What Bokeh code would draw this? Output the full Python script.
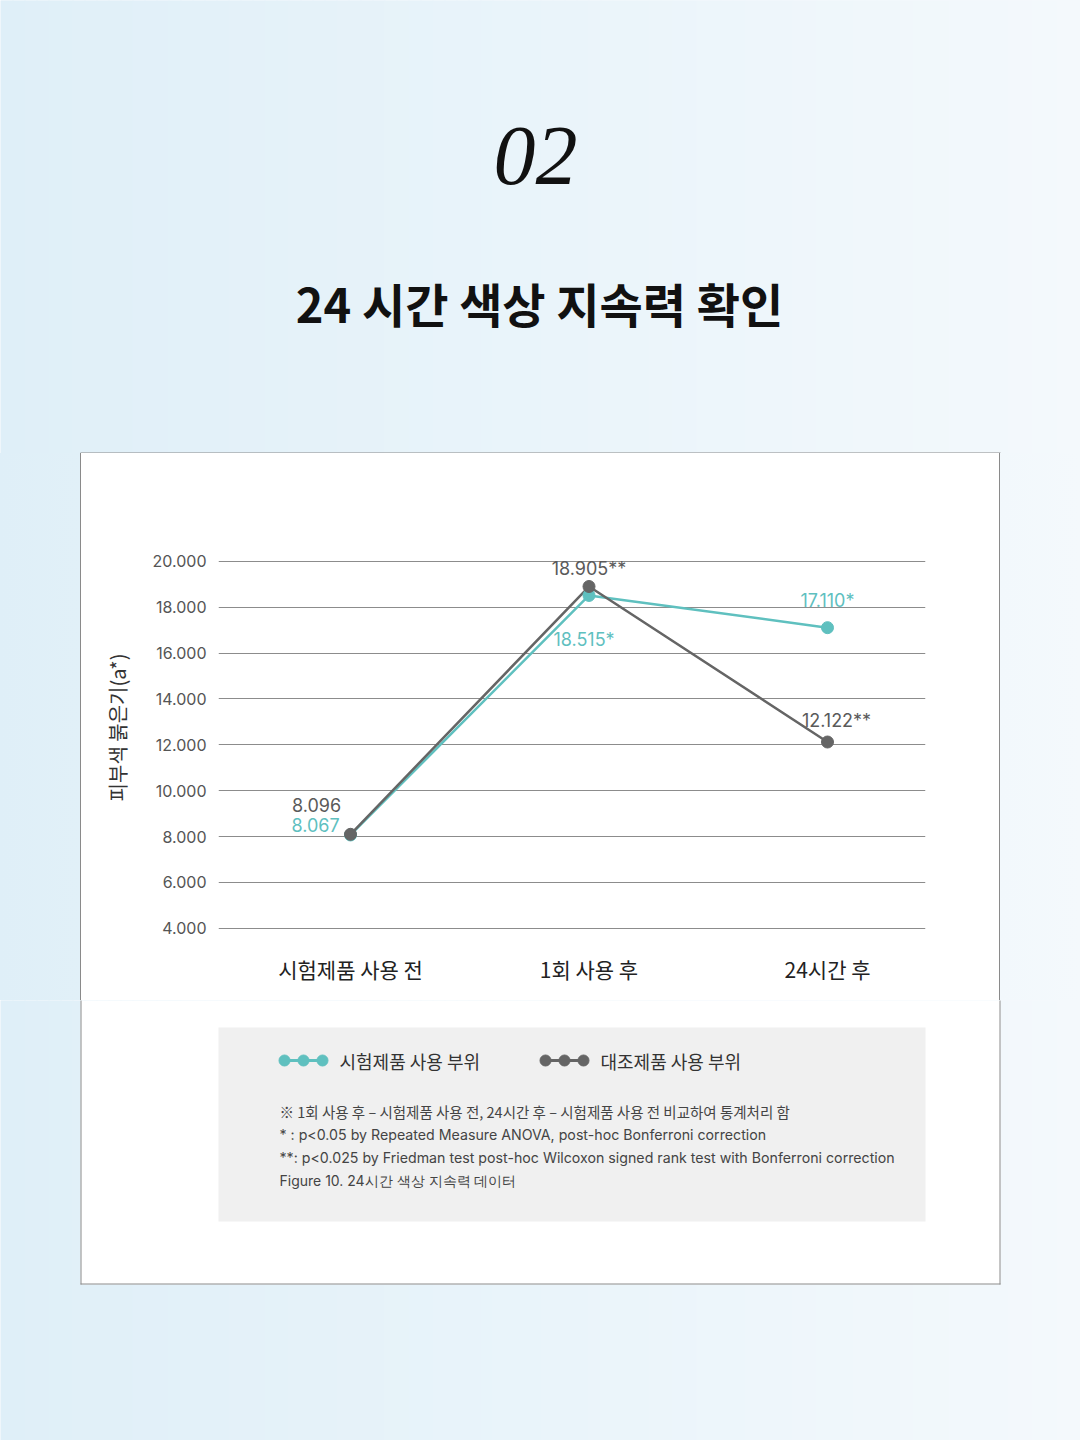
from bokeh.plotting import figure
from bokeh.layouts import column, row
from bokeh.models import (Range1d, FixedTicker, NumeralTickFormatter, Label,
                          ColumnDataSource, Spacer)
from bokeh.core.properties import value
from bokeh.embed import file_html
from bokeh.resources import INLINE

# ---------------- data ----------------
categories = ["시험제품 사용 전", "1회 사용 후", "24시간 후"]
test_values = [8.067, 18.515, 17.110]
control_values = [8.096, 18.905, 12.122]
test_labels = ["8.067", "18.515*", "17.110*"]
control_labels = ["8.096", "18.905**", "12.122**"]
y_ticks = [4, 6, 8, 10, 12, 14, 16, 18, 20]
series_names = ["시험제품 사용 부위", "대조제품 사용 부위"]
y_title = "피부색 붉은기(a*)"
page_number = "02"
page_title = "24 시간 색상 지속력 확인"
footnotes = [
    "※ 1회 사용 후 – 시험제품 사용 전, 24시간 후 – 시험제품 사용 전 비교하여 통계처리 함",
    "* : p<0.05 by Repeated Measure ANOVA, post-hoc Bonferroni correction",
    "**: p<0.025 by Friedman test post-hoc Wilcoxon signed rank test with Bonferroni correction",
    "Figure 10. 24시간 색상 지속력 데이터",
]

# ---------------- style constants ----------------
W, H = 1080, 1440
TEAL = "#5fc0bf"
GRAY = "#656565"
KR = "Noto Sans CJK KR"
LAT = "Inter"
CARD_L, CARD_R, CARD_T, CARD_B = 80, 1000, 452, 1284
BORDER = "#8a8a8a"
BG_L = (0xdf, 0xef, 0xf8)
BG_R = (0xf4, 0xf9, 0xfc)
BAND_A = 453          # header band height
BAND_B = 547          # chart band height (453..1000)
BAND_C = H - BAND_A - BAND_B
SP_L, SP_R = 81, 81   # spacers beside the chart card


def bg_color(xp):
    t = min(max(xp / W, 0.0), 1.0)
    c = [round(a + (b - a) * t) for a, b in zip(BG_L, BG_R)]
    return "#%02x%02x%02x" % tuple(c)


def blank(x0, y0, w, h):
    f = figure(width=w, height=h, x_range=Range1d(x0, x0 + w), y_range=Range1d(y0 + h, y0),
               output_backend="svg", toolbar_location=None, min_border=0,
               x_axis_type=None, y_axis_type=None)
    f.grid.visible = False
    f.outline_line_color = None
    f.background_fill_color = bg_color(x0 + w / 2)
    f.border_fill_color = bg_color(x0 + w / 2)
    step = 12
    lefts = list(range(x0, x0 + w, step))
    f.quad(left=lefts, right=[l + step + 1 for l in lefts], top=[y0 - 3] * len(lefts),
           bottom=[y0 + h + 3] * len(lefts), fill_color=[bg_color(l + step / 2) for l in lefts],
           line_color=None)
    return f


def label(f, text, X, Y, size, color="#222222", font=KR, style="normal", align="left"):
    f.add_layout(Label(x=X, y=Y, text=text, text_font=font, text_font_size=size,
                       text_color=color, text_font_style=style,
                       text_align=align, text_baseline="middle"))


# ---------------- band A: header ----------------
fa = blank(0, 0, W, BAND_A)
label(fa, page_number, 535, 155, "84px", color="#111111", font="Liberation Serif",
      style="italic", align="center")
label(fa, page_title, 539, 302, "47px", color="#111111", style="bold", align="center")
fa.quad(left=[CARD_L], right=[CARD_R], top=[CARD_T + 0.5], bottom=[BAND_A + 3],
        fill_color="white", line_color=None)
fa.segment(x0=[CARD_L], y0=[CARD_T + 0.5], x1=[CARD_R], y1=[CARD_T + 0.5],
           line_color=BORDER, line_width=1)

# ---------------- band B: chart ----------------
sl = Spacer(width=SP_L, height=BAND_B,
            styles={"background": "linear-gradient(to right, %s 0px, %s %dpx, %s %dpx, %s %dpx)"
                    % (bg_color(0), bg_color(SP_L - 1), SP_L - 1, BORDER, SP_L - 1, BORDER, SP_L)})
sr = Spacer(width=SP_R, height=BAND_B,
            styles={"background": "linear-gradient(to right, %s 0px, %s 1px, %s 1px, %s %dpx)"
                    % (BORDER, BORDER, bg_color(W - SP_R), bg_color(W), SP_R)})

FL, FR, FT, FB = 218, 925, 524, 930     # plot frame in page pixels
CW = W - SP_L - SP_R
idx = list(range(len(categories)))
p = figure(width=CW, height=BAND_B, output_backend="svg", toolbar_location=None,
           x_range=Range1d(-0.5535, 2.4109), y_range=Range1d(3.9, 21.61),
           min_border_left=FL - SP_L, min_border_right=(W - SP_R) - FR,
           min_border_top=FT - BAND_A, min_border_bottom=(BAND_A + BAND_B) - FB)
p.border_fill_color = "white"
p.background_fill_color = "white"
p.outline_line_color = None

p.yaxis.ticker = FixedTicker(ticks=y_ticks)
p.yaxis.formatter = NumeralTickFormatter(format="0.000")
p.yaxis.axis_line_color = None
p.yaxis.major_tick_line_color = None
p.yaxis.minor_tick_line_color = None
p.yaxis.major_label_standoff = 6
p.yaxis.major_label_text_font = LAT
p.yaxis.major_label_text_font_size = "16px"
p.yaxis.major_label_text_color = "#555555"
p.yaxis.axis_label = y_title
p.yaxis.axis_label_text_font = KR
p.yaxis.axis_label_text_font_size = "20px"
p.yaxis.axis_label_text_font_style = "normal"
p.yaxis.axis_label_text_color = "#333333"
p.yaxis.axis_label_standoff = 18

p.xaxis.ticker = FixedTicker(ticks=idx)
p.xaxis.major_label_overrides = {i: c for i, c in zip(idx, categories)}
p.xaxis.axis_line_color = None
p.xaxis.major_tick_line_color = None
p.xaxis.minor_tick_line_color = None
p.xaxis.major_label_standoff = 17
p.xaxis.major_label_text_font = KR
p.xaxis.major_label_text_font_size = "21px"
p.xaxis.major_label_text_color = "#222222"

p.xgrid.visible = False
p.ygrid.ticker = FixedTicker(ticks=y_ticks)
p.ygrid.grid_line_color = "#8c8c8c"
p.ygrid.grid_line_width = 1
p.ygrid.grid_line_alpha = 1.0

p.line(idx, test_values, line_color=TEAL, line_width=2.5)
p.line(idx, control_values, line_color=GRAY, line_width=2.5)
p.scatter(idx, test_values, size=12, fill_color=TEAL, line_color=TEAL)
p.scatter(idx, control_values, size=12, fill_color=GRAY, line_color=GRAY)

test_dx = [-35, -5, 0]
test_dy = [-10, 44, -27]
ctrl_dx = [-34, 0, 9]
ctrl_dy = [-29, -18, -22]
src_t = ColumnDataSource(dict(x=idx, y=test_values, t=test_labels, dx=test_dx, dy=test_dy))
src_c = ColumnDataSource(dict(x=idx, y=control_values, t=control_labels, dx=ctrl_dx, dy=ctrl_dy))
p.text(x="x", y="y", text="t", x_offset="dx", y_offset="dy", source=src_t,
       text_color=TEAL, text_font=value(LAT), text_font_size="18px",
       text_align="center", text_baseline="middle")
p.text(x="x", y="y", text="t", x_offset="dx", y_offset="dy", source=src_c,
       text_color="#5a5a5a", text_font=value(LAT), text_font_size="18px",
       text_align="center", text_baseline="middle")

# ---------------- band C: legend + notes ----------------
y0c = BAND_A + BAND_B
fc = blank(0, y0c, W, BAND_C)
fc.quad(left=[CARD_L], right=[CARD_R], top=[y0c - 3], bottom=[CARD_B],
        fill_color="white", line_color=None)
fc.segment(x0=[CARD_L + 0.5, CARD_R - 0.5, CARD_L], y0=[y0c - 3, y0c - 3, CARD_B - 0.5],
           x1=[CARD_L + 0.5, CARD_R - 0.5, CARD_R], y1=[CARD_B, CARD_B, CARD_B - 0.5],
           line_color=BORDER, line_width=1)
fc.quad(left=[FL], right=[FR], top=[1027], bottom=[1221],
        fill_color="#f0f0f0", line_color=None)

LEG_Y = 1060
for kx, col, name in [(284, TEAL, series_names[0]), (545, GRAY, series_names[1])]:
    keys = [kx, kx + 19, kx + 38]
    fc.line(x=keys, y=[LEG_Y] * 3, line_color=col, line_width=3)
    fc.scatter(x=keys, y=[LEG_Y] * 3, size=11, fill_color=col, line_color=col)
    label(fc, name, kx + 55, LEG_Y, "18px", color="#333333")

note_sizes = ["14.5px", "14.2px", "14.2px", "14px"]
note_fonts = [KR, LAT, LAT, LAT]
for i, line in enumerate(footnotes):
    label(fc, line, 279, 1111 + i * 23, note_sizes[i], color="#444444", font=note_fonts[i])

layout = column(fa, row(sl, p, sr), fc)
open("out.html", "w").write(file_html(layout, INLINE))
